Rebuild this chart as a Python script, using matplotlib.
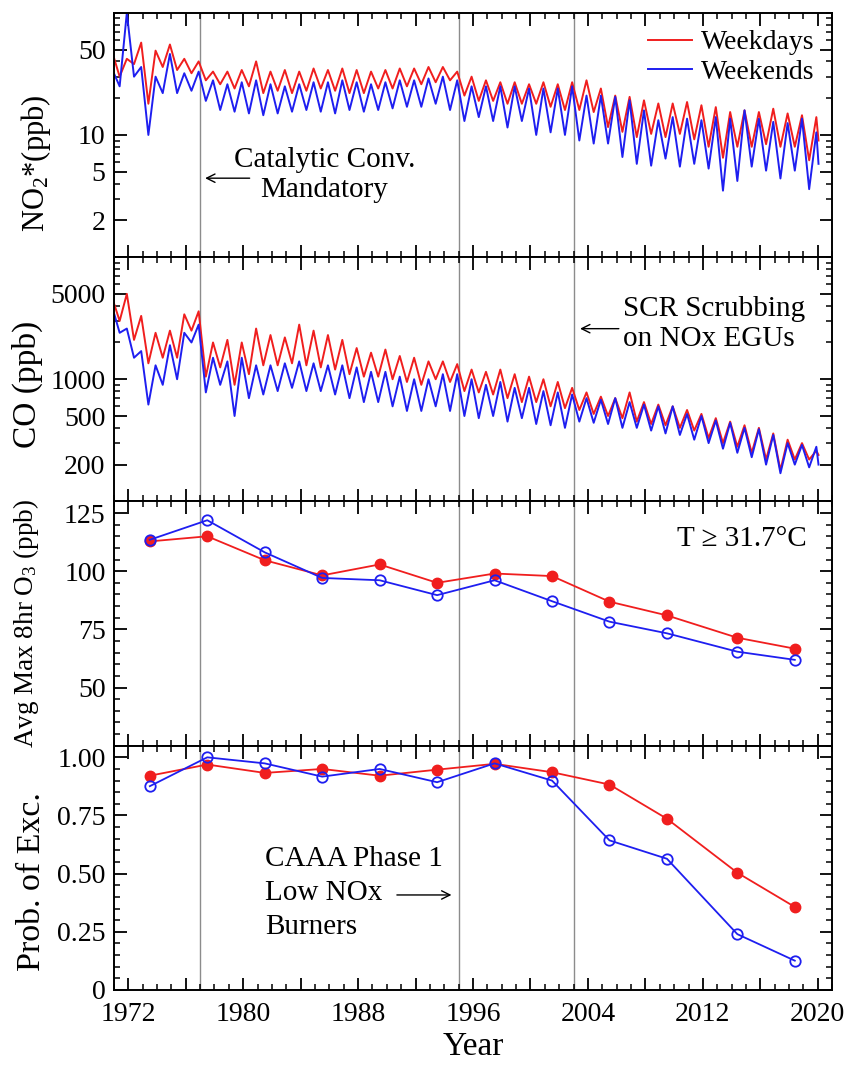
import numpy as np
import matplotlib
matplotlib.use('Agg')
import matplotlib.pyplot as plt
from matplotlib.ticker import FixedLocator, MultipleLocator, FuncFormatter, NullFormatter

plt.rcParams['font.family'] = ['Liberation Serif', 'DejaVu Serif']
plt.rcParams['mathtext.fontset'] = 'custom'
plt.rcParams['mathtext.rm'] = 'Liberation Serif'
plt.rcParams['mathtext.it'] = 'Liberation Serif:italic'

# ---------------- data ----------------
season_years = list(range(1971, 2020))

# NO2* (ppb): summer trough and winter peak per year
no2_wd_trough = [30, 38, 18, 36, 34, 32, 28, 26, 24, 25, 22, 23, 22, 23, 24, 23, 22, 22, 24, 24,
                 25, 26, 27, 28, 21, 19, 19, 18, 18, 18, 17, 16, 16, 15.4, 11.6, 10.6, 9.6, 10.2, 9.6, 10.2,
                 9.2, 8.0, 6.5, 8.0, 8.0, 8.4, 8.0, 8.0, 6.2]
no2_wd_peak = [42, 57, 49, 55, 42, 40, 33, 33, 34, 40, 33, 34, 33, 35, 34, 35, 34, 33, 34, 35,
               35, 36, 36, 33, 30, 28, 27, 27, 26, 27, 26, 27, 28, 24, 21, 20.5, 19.2, 18.1, 18.1, 18.6,
               17.5, 16.9, 15.4, 15.9, 15.4, 16.4, 15.0, 14.5, 14.0]
no2_we_trough = [25, 30, 10, 22, 22, 23, 19, 16, 15.5, 15, 14.5, 15, 15.5, 16, 15.5, 15, 16, 15.5, 16, 16.5,
                 17, 17, 18, 16, 13, 14, 13, 11.5, 13, 10, 10.5, 10, 9, 8.5, 8.5, 6.6, 5.8, 5.6, 6.4, 5.5,
                 5.8, 5.3, 3.5, 4.2, 5.5, 5.1, 4.4, 5.1, 3.6]
no2_we_peak = [100, 36, 30, 46, 32, 33, 28, 26, 27, 28, 26, 25, 26, 27, 27, 28, 27, 26, 27, 28,
               28, 29, 30, 28, 25, 25, 25, 25, 24, 24, 24, 25, 21, 21, 20.5, 19.2, 15.9, 13.2, 14.0, 13.6,
               13.2, 14.0, 13.6, 15.9, 13.6, 12.8, 12.5, 13.6, 10.5]
no2_start = (43, 32)
no2_end = (9, 5.8)

# CO (ppb)
co_wd_trough = [3000, 2100, 1350, 1500, 1500, 2500, 1050, 1250, 900, 1100, 1300, 1300, 1350, 1300, 1250, 1200,
                1100, 1050, 1050, 1000, 950, 900, 1000, 950, 800, 780, 750, 700, 650, 650, 600, 580, 560,
                520, 500, 480, 450, 430, 420, 400, 380, 330, 300, 280, 250, 220, 180, 220, 220]
co_wd_peak = [5000, 3300, 2400, 2500, 3400, 3600, 2000, 2100, 2000, 2600, 2300, 2200, 2800, 2500, 2300, 2100,
              1800, 1650, 1750, 1550, 1500, 1400, 1400, 1330, 1200, 1150, 1200, 1100, 1050, 1000, 950, 850, 780,
              720, 700, 780, 650, 620, 600, 560, 520, 480, 450, 420, 400, 360, 320, 300, 260]
co_we_trough = [2400, 1500, 620, 900, 1000, 2000, 780, 900, 500, 700, 750, 800, 850, 800, 800, 750,
                700, 650, 650, 600, 550, 550, 600, 550, 500, 480, 500, 450, 480, 430, 420, 400, 450,
                440, 430, 400, 400, 380, 360, 350, 320, 300, 270, 250, 230, 200, 170, 200, 190]
co_we_peak = [2600, 1700, 1300, 1900, 2400, 2800, 1500, 1400, 1500, 1300, 1300, 1350, 1400, 1350, 1300, 1300,
              1250, 1150, 1150, 1050, 1000, 1000, 1100, 1100, 1000, 900, 950, 850, 850, 800, 780, 750, 700,
              680, 700, 650, 620, 600, 600, 520, 500, 460, 440, 400, 390, 350, 300, 290, 280]
co_start = (4200, 3500)
co_end = (240, 200)

# 4-year window results
o3_years = [1973.5, 1977.5, 1981.5, 1985.5, 1989.5, 1993.5, 1997.5, 2001.5, 2005.5, 2009.5, 2014.4, 2018.4]
o3_wd = [112.8, 115.0, 104.7, 98.2, 102.9, 95.0, 99.0, 97.9, 86.9, 81.0, 71.4, 66.7]
o3_we = [113.5, 121.9, 108.1, 97.1, 96.1, 89.7, 96.1, 87.1, 78.3, 73.3, 65.4, 61.9]
pe_wd = [0.921, 0.969, 0.933, 0.950, 0.921, 0.947, 0.972, 0.936, 0.883, 0.736, 0.504, 0.357]
pe_we = [0.876, 1.000, 0.974, 0.917, 0.950, 0.893, 0.974, 0.900, 0.643, 0.564, 0.240, 0.126]

event_years = [1977, 1995, 2003]

RED = '#f01e1e'
BLUE = '#1e1ef0'
TROUGH_PHASE, PEAK_PHASE = 0.4, 0.9


def build_series(trough, peak, start, end):
    t = [season_years[0]]
    v = [start]
    for yr, lo, hi in zip(season_years, trough, peak):
        t += [yr + TROUGH_PHASE, yr + PEAK_PHASE]
        v += [lo, hi]
    t.append(2020.05)
    v.append(end)
    return t, v


fig = plt.figure(figsize=(8.5, 10.66), dpi=100)
gs = fig.add_gridspec(4, 1, left=0.134, right=0.979, bottom=0.0713, top=0.988, hspace=0)
axes = [fig.add_subplot(gs[i]) for i in range(4)]
ax1, ax2, ax3, ax4 = axes

TICK_FS = 20
ANN_FS = 21
ARROW = dict(arrowstyle='->', lw=1.0, color='black', shrinkA=0, shrinkB=0, mutation_scale=15)

# panel 1
t, v = build_series(no2_wd_trough, no2_wd_peak, no2_start[0], no2_end[0])
l1, = ax1.plot(t, v, color=RED, lw=1.4)
t, v = build_series(no2_we_trough, no2_we_peak, no2_start[1], no2_end[1])
l2, = ax1.plot(t, v, color=BLUE, lw=1.4)
ax1.set_yscale('log')
ax1.set_ylim(1, 100)
ax1.yaxis.set_major_locator(FixedLocator([2, 5, 10, 50]))
ax1.yaxis.set_minor_locator(FixedLocator([1, 3, 4, 6, 7, 8, 9, 20, 30, 40, 60, 70, 80, 90, 100]))
ax1.yaxis.set_major_formatter(FuncFormatter(lambda v, p: f"{v:g}"))
ax1.yaxis.set_minor_formatter(NullFormatter())
ax1.set_ylabel('NO$_2$*(ppb)', fontsize=22)
ax1.yaxis.set_label_coords(-0.108, 0.385)
ax1.legend([l1, l2], ['Weekdays', 'Weekends'], loc='upper right', bbox_to_anchor=(0.975, 0.93),
           frameon=False, fontsize=20, handlelength=1.6, handletextpad=0.3, labelspacing=0.15,
           borderaxespad=0, borderpad=0)
ax1.text(0.293, 0.335, 'Catalytic Conv.\nMandatory', transform=ax1.transAxes, ha='center', va='center',
         fontsize=ANN_FS, linespacing=1.2)
ax1.annotate('', xy=(0.127, 0.323), xytext=(0.189, 0.323), xycoords='axes fraction', arrowprops=ARROW)

# panel 2
t, v = build_series(co_wd_trough, co_wd_peak, co_start[0], co_end[0])
ax2.plot(t, v, color=RED, lw=1.4)
t, v = build_series(co_we_trough, co_we_peak, co_start[1], co_end[1])
ax2.plot(t, v, color=BLUE, lw=1.4)
ax2.set_yscale('log')
ax2.set_ylim(100, 10000)
ax2.yaxis.set_major_locator(FixedLocator([200, 500, 1000, 5000]))
ax2.yaxis.set_minor_locator(FixedLocator([100, 300, 400, 600, 700, 800, 900, 2000, 3000, 4000,
                                          6000, 7000, 8000, 9000, 10000]))
ax2.yaxis.set_major_formatter(FuncFormatter(lambda v, p: f"{v:g}"))
ax2.yaxis.set_minor_formatter(NullFormatter())
ax2.set_ylabel('CO (ppb)', fontsize=24)
ax2.yaxis.set_label_coords(-0.12, 0.48)
ax2.text(0.709, 0.727, 'SCR Scrubbing\non NOx EGUs', transform=ax2.transAxes, ha='left', va='center',
         fontsize=ANN_FS, linespacing=1.2)
ax2.annotate('', xy=(0.649, 0.707), xytext=(0.703, 0.707), xycoords='axes fraction', arrowprops=ARROW)

# panel 3
ax3.plot(o3_years, o3_wd, color=RED, lw=1.3, marker='o', ms=7.5, mfc=RED, mec=RED, zorder=3)
ax3.plot(o3_years, o3_we, color=BLUE, lw=1.3, marker='o', ms=7.5, mfc='none', mec=BLUE, mew=1.3, zorder=4)
ax3.set_ylim(25, 130)
ax3.yaxis.set_major_locator(FixedLocator([50, 75, 100, 125]))
ax3.yaxis.set_minor_locator(MultipleLocator(5))
ax3.set_ylabel('Avg Max 8hr O$_3$ (ppb)', fontsize=19.5)
ax3.yaxis.set_label_coords(-0.122, 0.5)
ax3.text(0.965, 0.848, 'T \u2265 31.7\u00b0C', transform=ax3.transAxes, ha='right', va='center', fontsize=ANN_FS)

# panel 4
ax4.plot(o3_years, pe_wd, color=RED, lw=1.3, marker='o', ms=7.5, mfc=RED, mec=RED, zorder=3)
ax4.plot(o3_years, pe_we, color=BLUE, lw=1.3, marker='o', ms=7.5, mfc='none', mec=BLUE, mew=1.3, zorder=4)
ax4.set_ylim(0, 1.05)
ax4.yaxis.set_major_locator(FixedLocator([0, 0.25, 0.5, 0.75, 1.0]))
ax4.yaxis.set_minor_locator(MultipleLocator(0.05))
ax4.yaxis.set_major_formatter(FuncFormatter(lambda v, p: '0' if v == 0 else f"{v:.2f}"))
ax4.set_ylabel('Prob. of Exc.', fontsize=24.5)
ax4.yaxis.set_label_coords(-0.115, 0.443)
ax4.text(0.21, 0.398, 'CAAA Phase 1\nLow NOx\nBurners', transform=ax4.transAxes, ha='left', va='center',
         fontsize=ANN_FS, linespacing=1.4)
ax4.annotate('', xy=(0.470, 0.389), xytext=(0.394, 0.389), xycoords='axes fraction', arrowprops=ARROW)
ax4.set_xlabel('Year', fontsize=24, labelpad=3)

for i, ax in enumerate(axes):
    ax.set_xlim(1971, 2021)
    for yv in event_years:
        ax.axvline(yv, color='#8c8c8c', lw=1.0, zorder=1)
    ax.xaxis.set_major_locator(MultipleLocator(4))
    ax.xaxis.set_minor_locator(MultipleLocator(1))
    if i == 3:
        ax.xaxis.set_major_formatter(FuncFormatter(
            lambda v, p: f"{int(round(v))}" if (int(round(v)) - 1972) % 8 == 0 else ""))
    else:
        ax.xaxis.set_major_formatter(NullFormatter())
    ax.tick_params(which='both', direction='in', top=True, right=True, labelsize=TICK_FS, pad=6)
    ax.tick_params(axis='x', which='both', pad=9)
    ax.tick_params(which='major', length=9, width=1.3)
    ax.tick_params(which='minor', length=4.5, width=1.1)
    for s in ax.spines.values():
        s.set_linewidth(1.4)
    ax.yaxis.label.set_va('center')

fig.savefig('out.png', dpi=100)
